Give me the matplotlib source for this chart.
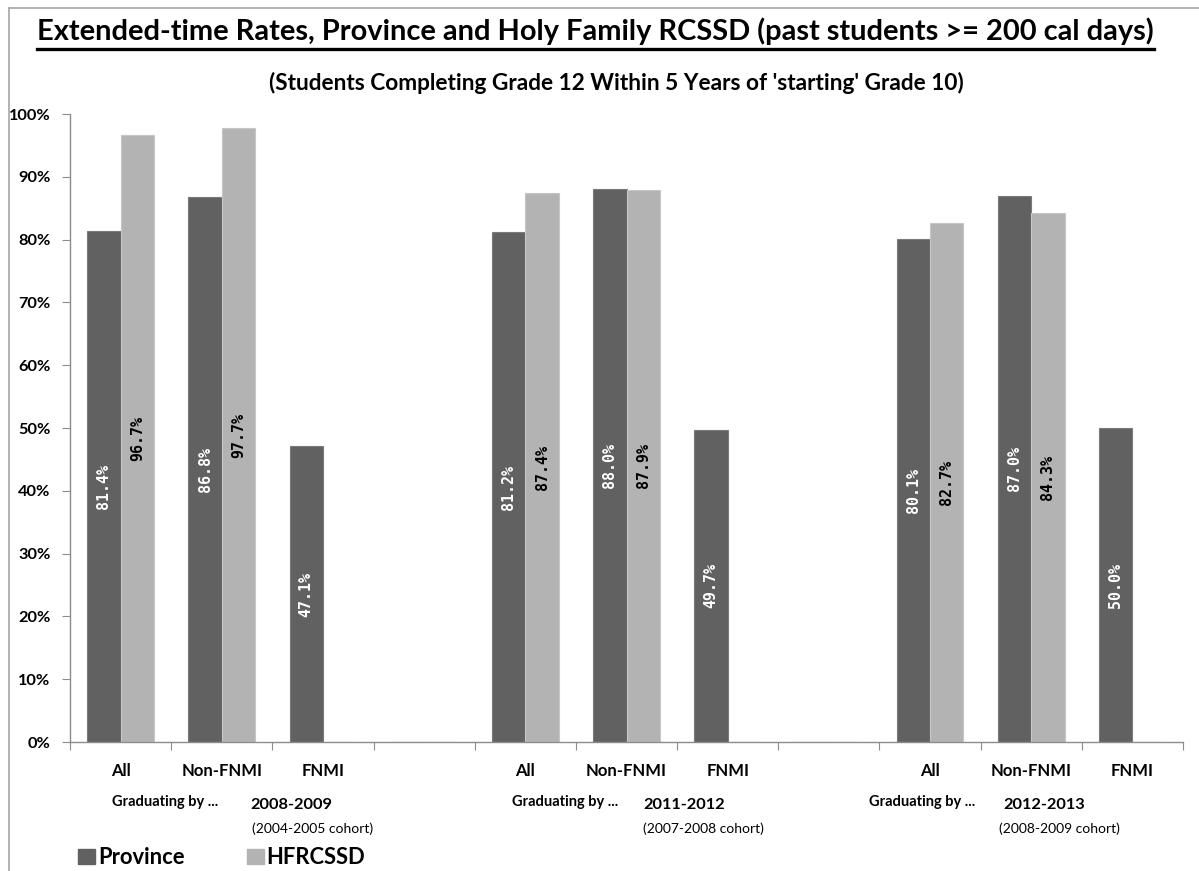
import matplotlib
matplotlib.use("Agg")
import matplotlib.pyplot as plt
from matplotlib.lines import Line2D
import numpy as np

# ---- data ----
categories = ["All", "Non-FNMI", "FNMI", "", "All", "Non-FNMI", "FNMI", "", "All", "Non-FNMI", "FNMI"]
province = [81.4, 86.8, 47.1, np.nan, 81.2, 88.0, 49.7, np.nan, 80.1, 87.0, 50.0]
hfrcssd = [96.7, 97.7, np.nan, np.nan, 87.4, 87.9, np.nan, np.nan, 82.7, 84.3, np.nan]
yticks = [0, 10, 20, 30, 40, 50, 60, 70, 80, 90, 100]
series_names = ["Province", "HFRCSSD"]
group_years = ["2008-2009", "2011-2012", "2012-2013"]
group_cohorts = ["(2004-2005 cohort)", "(2007-2008 cohort)", "(2008-2009 cohort)"]

title = "Extended-time Rates, Province and Holy Family RCSSD (past students >= 200 cal days)"
subtitle = "(Students Completing Grade 12 Within 5 Years of 'starting' Grade 10)"

FONT = ["Lato", "DejaVu Sans"]
plt.rcParams['font.family'] = FONT

W, H = 1199, 871
fig = plt.figure(figsize=(W / 100, H / 100), dpi=100)

def fx(px):
    return px / W

def fy(py):
    return 1 - py / H

def fit_width(txt, target_px):
    fig.canvas.draw()
    w = txt.get_window_extent().width
    txt.set_fontsize(txt.get_fontsize() * target_px / w)

ax = fig.add_axes([fx(70), fy(742), fx(1183) - fx(70), fy(114) - fy(742)])

c_prov = "#616161"
c_hf = "#b3b3b3"
axis_c = "#8c8c8c"

x = np.arange(len(categories))
bw = 0.33
prov_vals = np.array(province, dtype=float)
hf_vals = np.array(hfrcssd, dtype=float)
ax.bar(x - bw / 2, np.nan_to_num(prov_vals), bw, color=c_prov, edgecolor="#7a7a7a", linewidth=0.8)
ax.bar(x + bw / 2, np.nan_to_num(hf_vals), bw, color=c_hf, edgecolor="#c6c6c6", linewidth=0.8)

for xi, v in zip(x - bw / 2, prov_vals):
    if not np.isnan(v):
        ax.text(xi, v / 2, f"{v:.1f}%", rotation=90, ha="center", va="center",
                color="white", fontsize=10.8, family="DejaVu Sans Mono", fontweight="bold")
for xi, v in zip(x + bw / 2, hf_vals):
    if not np.isnan(v):
        ax.text(xi, v / 2, f"{v:.1f}%", rotation=90, ha="center", va="center",
                color="black", fontsize=10.8, family="DejaVu Sans Mono", fontweight="bold")

ax.set_xlim(-0.5, len(categories) - 0.5)
ax.set_ylim(0, 100)
ax.set_yticks(yticks)
ax.set_yticklabels([f"{t}%" for t in yticks], fontweight="bold", fontsize=11.8)
ax.set_xticks(np.arange(-0.5, len(categories)), labels=[""] * (len(categories) + 1))
ax.set_xticks(x, minor=True)
ax.set_xticklabels(categories, minor=True, fontweight="bold", fontsize=12)
ax.tick_params(axis="x", which="major", length=6, color=axis_c, direction="out")
ax.tick_params(axis="x", which="minor", length=0, pad=15)
ax.tick_params(axis="y", length=6, color=axis_c, direction="out", pad=8)

for s in ["top", "right"]:
    ax.spines[s].set_visible(False)
for s in ["left", "bottom"]:
    ax.spines[s].set_color(axis_c)
    ax.spines[s].set_linewidth(1.0)

# title with underline
t = fig.text(fx(595.5), fy(31), title, ha="center", va="center", fontsize=20, fontweight="bold")
fit_width(t, 1119)
st = fig.text(fx(616), fy(83), subtitle, ha="center", va="center", fontsize=15, fontweight="bold")
fit_width(st, 696)
fig.canvas.draw()
bb = t.get_window_extent()
fig.add_artist(Line2D([bb.x0 / W, bb.x1 / W], [fy(49), fy(49)], color="black", linewidth=2.4,
                      transform=fig.transFigure))

# group annotations
grad_x = [165, 565, 922]
year_x = [250, 643, 1003]
coh_x = [252, 643, 999]
for i in range(3):
    fig.text(fx(grad_x[i]), fy(802), "Graduating by ...", ha="center", va="center", fontsize=10.5, fontweight="bold")
    fig.text(fx(year_x[i]), fy(805), group_years[i], ha="left", va="center", fontsize=11.8, fontweight="bold")
    fig.text(fx(coh_x[i]), fy(829), group_cohorts[i], ha="left", va="center", fontsize=10)

# legend
for (sx, tx, col, name) in [(78, 98, c_prov, series_names[0]), (247, 266, c_hf, series_names[1])]:
    fig.add_artist(plt.Rectangle((fx(sx), fy(864)), fx(17), fy(849) - fy(864), color=col,
                                 transform=fig.transFigure))
    fig.text(fx(tx), fy(857), name, ha="left", va="center", fontsize=15.8, fontweight="bold")

# chart border
border_c = "#a6a6a6"
fig.add_artist(Line2D([fx(9), 1], [fy(8), fy(8)], color=border_c, linewidth=1.2, transform=fig.transFigure))
fig.add_artist(Line2D([fx(9), fx(9)], [fy(8), 0], color=border_c, linewidth=1.2, transform=fig.transFigure))

fig.savefig("out.png", dpi=100)
